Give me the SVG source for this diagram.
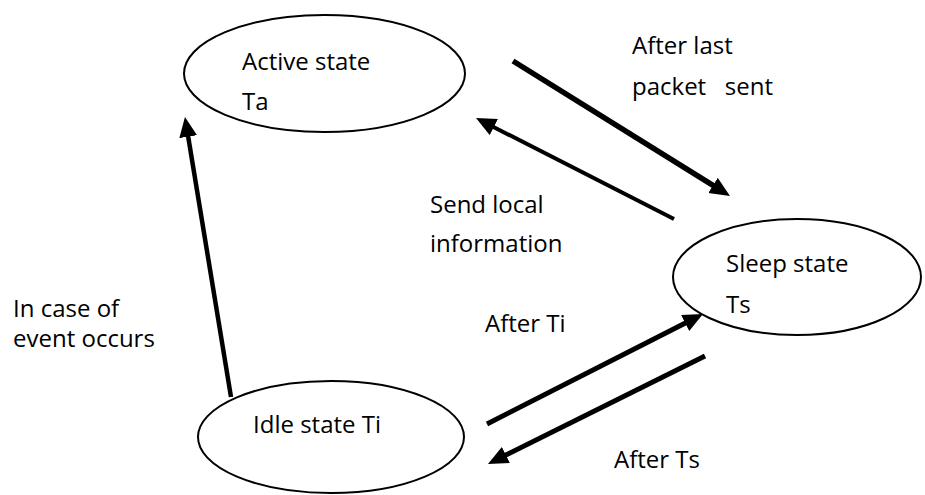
<svg xmlns="http://www.w3.org/2000/svg" width="925" height="495" viewBox="0 0 925 495">
  <style>
    .state { fill: #fff; stroke: #000; stroke-width: 2; }
    .lbl { font-family: "Open Sans", "Liberation Sans", sans-serif; font-size: 24px; fill: #000; white-space: pre; }
    .edge { stroke: #000; fill: none; stroke-linecap: butt; marker-end: url(#head); }
  </style>
  <defs>
    <marker id="head" markerUnits="userSpaceOnUse" markerWidth="22" markerHeight="20" refX="8" refY="9" orient="auto">
      <path d="M0,0 L20,9 L0,18 z" fill="#000"/>
    </marker>
  </defs>

  <rect width="925" height="495" fill="#fff"/>

  <g id="connectors">
    <!-- idle -> active -->
    <line class="edge" x1="231" y1="397" x2="186.9" y2="128.8" stroke-width="4.5"/>
    <!-- active -> sleep -->
    <line class="edge" x1="513" y1="61" x2="719.8" y2="189.7" stroke-width="5.5"/>
    <!-- sleep -> active -->
    <line class="edge" x1="674" y1="219" x2="486.7" y2="123.5" stroke-width="4"/>
    <!-- idle -> sleep -->
    <line class="edge" x1="487" y1="424" x2="692.3" y2="319.4" stroke-width="5"/>
    <!-- sleep -> idle -->
    <line class="edge" x1="705" y1="356" x2="498.7" y2="458.6" stroke-width="5"/>
  </g>

  <g id="active">
    <ellipse class="state" cx="324.5" cy="73.5" rx="140.5" ry="58.5"/>
    <text class="lbl" x="242" y="70">Active state</text>
    <text class="lbl" x="242" y="110">Ta</text>
  </g>

  <g id="sleep">
    <ellipse class="state" cx="797" cy="277" rx="124" ry="58"/>
    <text class="lbl" x="726" y="272">Sleep state</text>
    <text class="lbl" x="726" y="313">Ts</text>
  </g>

  <g id="idle">
    <ellipse class="state" cx="331" cy="437" rx="133" ry="56"/>
    <text class="lbl" x="253" y="433">Idle state Ti</text>
  </g>

  <g id="labels">
    <text class="lbl" x="632" y="54">After last</text>
    <text class="lbl" x="632" y="95">packet   sent</text>
    <text class="lbl" x="430" y="213">Send local</text>
    <text class="lbl" x="430" y="252">information</text>
    <text class="lbl" x="13" y="317">In case of</text>
    <text class="lbl" x="13" y="347">event occurs</text>
    <text class="lbl" x="485" y="332">After Ti</text>
    <text class="lbl" x="614" y="468">After Ts</text>
  </g>
</svg>
